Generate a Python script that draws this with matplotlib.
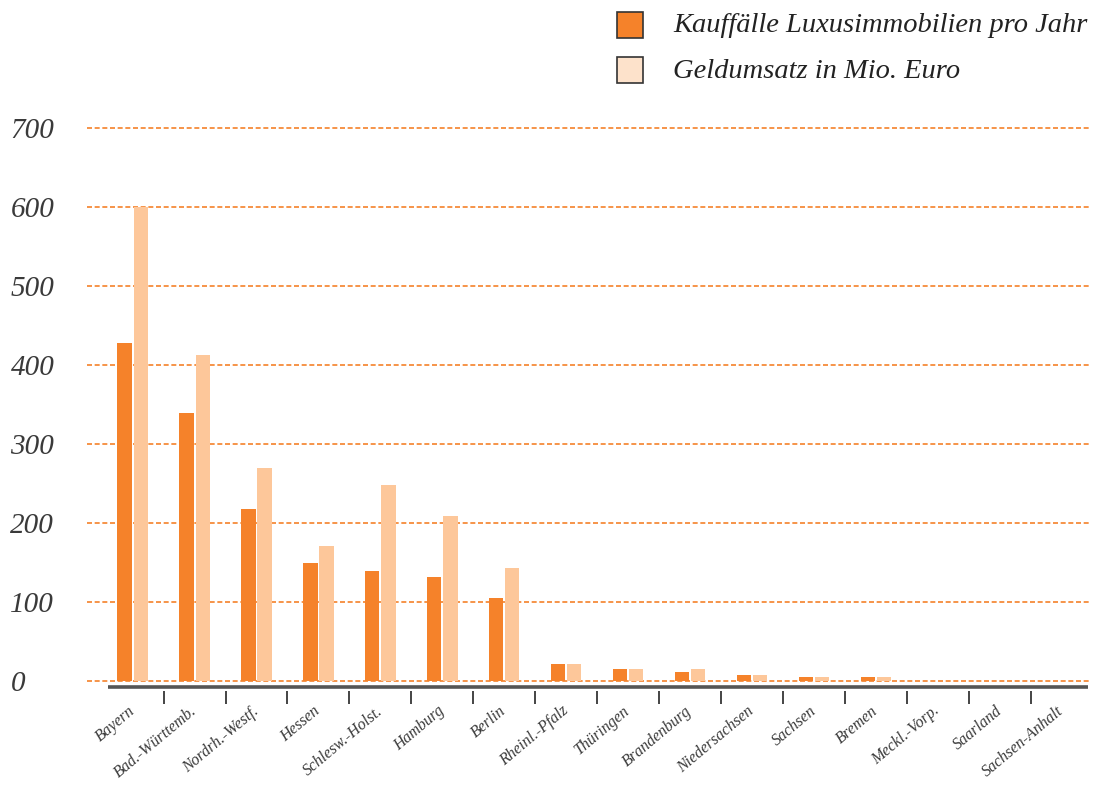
import numpy as np
import matplotlib.pyplot as plt
from matplotlib.patches import Rectangle

# Bundeslaender und Werte
laender = ['Bayern', 'Bad.-Württemb.', 'Nordrh.-Westf.', 'Hessen', 'Schlesw.-Holst.',
           'Hamburg', 'Berlin', 'Rheinl.-Pfalz', 'Thüringen', 'Brandenburg',
           'Niedersachsen', 'Sachsen', 'Bremen', 'Meckl.-Vorp.', 'Saarland', 'Sachsen-Anhalt']
kauffaelle = [428, 339, 218, 149, 139, 132, 105, 21, 15, 11, 7, 5, 5, 0, 0, 0]
geldumsatz = [600, 413, 270, 171, 248, 209, 143, 21, 15, 15, 7, 5, 5, 0, 0, 0]
y_ticks = [0, 100, 200, 300, 400, 500, 600, 700]

label_kauf = 'Kauffälle Luxusimmobilien pro Jahr'
label_geld = 'Geldumsatz in Mio. Euro'

dark = '#F5822A'
light = '#FDC79A'
light_legend = '#FDE2CB'
text_col = '#3a3a3a'

serif = ['Liberation Serif', 'DejaVu Serif']

fig = plt.figure(figsize=(10.99, 7.94), dpi=100)
ax = fig.add_axes([0.079, 0.1297, 0.913, 0.7121])

x = np.arange(len(laender))
w = 0.23
ax.bar(x - 0.13, kauffaelle, width=w, color=dark, zorder=2)
ax.bar(x + 0.13, geldumsatz, width=w, color=light, zorder=2)

# gestrichelte Hilfslinien
for yv in y_ticks:
    ax.axhline(yv, color=dark, lw=1.2, ls=(0, (3, 1.6)), zorder=1)

ax.set_xlim(-0.74, 15.46)
ax.set_ylim(-12.7, 703)

for s in ax.spines.values():
    s.set_visible(False)

# x-Achse als graue Linie
ax.hlines(-7.6, -0.4, 15.43, color='#555555', lw=2.6, clip_on=False, zorder=3)

ax.set_yticks(y_ticks)
ax.set_yticklabels([str(v) for v in y_ticks], fontsize=21, family=serif,
                   style='italic', color=text_col, ha='left')
ax.tick_params(axis='y', length=0, pad=55)

ax.set_xticks(x)
ax.set_xticklabels(laender, rotation=40, ha='right', va='center',
                   rotation_mode='anchor', fontsize=11.5, family=serif,
                   style='italic', color=text_col)
ax.tick_params(axis='x', which='major', length=0, pad=13)
ax.set_xticks(x[:-1] + 0.5, minor=True)
ax.tick_params(axis='x', which='minor', length=9.5, width=1.4, color='#444444')

# Legende
fig.add_artist(Rectangle((617 / 1099, 1 - 38 / 794), 26 / 1099, 26 / 794,
                         transform=fig.transFigure, facecolor=dark,
                         edgecolor='#333333', lw=1.2))
fig.add_artist(Rectangle((617 / 1099, 1 - 83 / 794), 26 / 1099, 26 / 794,
                         transform=fig.transFigure, facecolor=light_legend,
                         edgecolor='#333333', lw=1.2))
fig.text(673 / 1099, 1 - 25 / 794, label_kauf, fontsize=20.5, family=serif,
         style='italic', color='#222222', va='center', ha='left')
fig.text(673 / 1099, 1 - 71 / 794, label_geld, fontsize=20.5, family=serif,
         style='italic', color='#222222', va='center', ha='left')

fig.savefig('out.png', dpi=100)
